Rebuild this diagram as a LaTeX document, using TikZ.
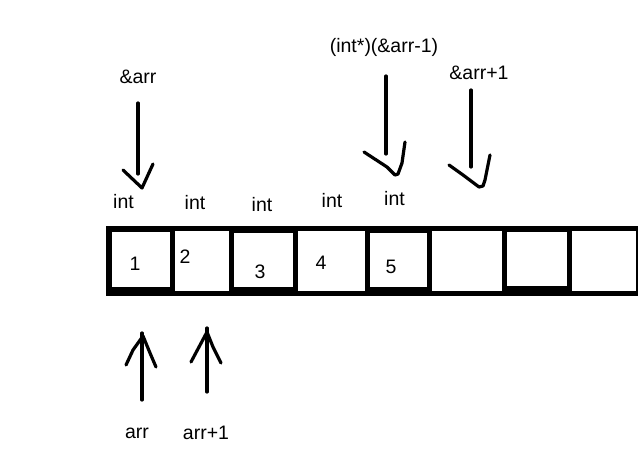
\documentclass[tikz,border=0pt]{standalone}
\usepackage{fontspec}
\setmainfont{Liberation Sans}
\begin{document}
\begin{tikzpicture}[x=1pt,y=-1pt,
  lbl/.style={inner sep=0pt, anchor=base, font=\fontsize{19.5}{23}\selectfont},
  stroke/.style={line width=3.2pt, line cap=round, line join=round},
  cell/.style={fill=white}
]
\useasboundingbox (0,0) rectangle (638,460);
% array band
\fill[black] (106,226) rectangle (638,296);
\fill[cell] (112,232) rectangle (170,287);
\fill[cell] (175,231) rectangle (229,291);
\fill[cell] (234,233) rectangle (293,287);
\fill[cell] (298,231) rectangle (365,291);
\fill[cell] (370,233) rectangle (427,287);
\fill[cell] (432,231) rectangle (502,291);
\fill[cell] (507,232) rectangle (567,286);
\fill[cell] (572,231) rectangle (636,291);
% numbers
\node[lbl] (n1) at (135,270) {1};
\node[lbl] (n2) at (185,263) {2};
\node[lbl] (n3) at (260,278) {3};
\node[lbl] (n4) at (321,269) {4};
\node[lbl] (n5) at (391,273) {5};
% int labels
\node[lbl] (i1) at (123.5,208) {int};
\node[lbl] (i2) at (195,209) {int};
\node[lbl] (i3) at (262,211) {int};
\node[lbl] (i4) at (332,207) {int};
\node[lbl] (i5) at (394.5,205) {int};
% top labels
\node[lbl] (ta) at (138,84) {\&arr};
\node[lbl] (tb) at (384,53) {(int*)(\&arr-1)};
\node[lbl] (tc) at (479,80) {\&arr+1};
% bottom labels
\node[lbl] (ba) at (137,438) {arr};
\node[lbl] (bb) at (206,439) {arr+1};
% arrow coordinates
\coordinate (a1s) at (138,103); \coordinate (a1e) at (138,174); \coordinate (a1t) at (142,188);
\coordinate (a2s) at (386,76);  \coordinate (a2e) at (386,154); \coordinate (a2t) at (395,175);
\coordinate (a3s) at (471,90);  \coordinate (a3e) at (471,167); \coordinate (a3t) at (479,187);
\coordinate (b1s) at (142,400); \coordinate (b1e) at (142,333); \coordinate (b1t) at (143,336);
\coordinate (b2s) at (207,392); \coordinate (b2e) at (207,328); \coordinate (b2t) at (207,332);
% top arrows
\draw[stroke] (a1s) -- (a1e);
\draw[stroke] (123,170) -- (a1t) -- (153,164);
\draw[stroke] (a2s) -- (a2e);
\draw[stroke] (364,152) -- (387,167) -- (a2t) -- (398,174) -- (402,163) -- (405,142);
\draw[stroke] (a3s) -- (a3e);
\draw[stroke] (449,165) -- (463,175) -- (a3t) -- (483,186) -- (485,180) -- (490,155);
% bottom arrows
\draw[stroke] (b1s) -- (b1e);
\draw[stroke] (126,365) -- (133,350) -- (b1t) -- (150,353) -- (156,367);
\draw[stroke] (b2s) -- (b2e);
\draw[stroke] (191,362) -- (b2t) -- (213,347) -- (221,363);
\end{tikzpicture}
\end{document}
